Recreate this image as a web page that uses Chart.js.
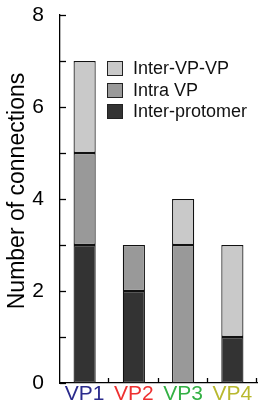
<!DOCTYPE html>
<html>
<head>
<meta charset="utf-8">
<script src="https://cdn.jsdelivr.net/npm/chart.js@4"></script>
<style>
html,body{margin:0;padding:0;background:#fff;}
#wrap{position:relative;width:258px;height:405px;}
</style>
</head>
<body>
<div id="wrap"><canvas id="c" width="258" height="405"></canvas></div>
<script>
const categories = ['VP1', 'VP2', 'VP3', 'VP4'];
const categoryColors = ['#2b2b8c', '#ee3030', '#33b044', '#b8b82e'];
const interProtomer = [3, 2, 0, 1];
const intraVP = [2, 1, 3, 0];
const interVPVP = [2, 0, 1, 2];
const yTickLabels = ['0', '2', '4', '6', '8'];
const seriesNames = ['Inter-VP-VP', 'Intra VP', 'Inter-protomer'];

const FONT = '"Liberation Sans", Arial, sans-serif';
const COL_DARK = '#333333', COL_MID = '#999999', COL_LIGHT = '#c9c9c9';

const nz = a => a.map(v => v === 0 ? null : v);

const overlay = {
  id: 'overlay',
  afterDraw(chart) {
    const ctx = chart.ctx;
    const x = chart.scales.x, y = chart.scales.y;
    const area = chart.chartArea;
    ctx.save();
    ctx.strokeStyle = '#000';
    ctx.lineWidth = 1.3;
    // y inward ticks
    for (let v = 0; v <= 8; v++) {
      const py = Math.round(y.getPixelForValue(v)) + 0.5;
      ctx.beginPath(); ctx.moveTo(area.left, py); ctx.lineTo(area.left + 6, py); ctx.stroke();
    }
    // x inward ticks at category boundaries
    const step = x.getPixelForValue(1) - x.getPixelForValue(0);
    for (let i = 0; i < categories.length; i++) {
      const px = Math.round(x.getPixelForValue(i) + step / 2) - 0.5;
      ctx.beginPath(); ctx.moveTo(px, area.bottom); ctx.lineTo(px, area.bottom - 5); ctx.stroke();
    }
    // y title
    ctx.fillStyle = '#000';
    ctx.font = '23px ' + FONT;
    ctx.textAlign = 'center';
    ctx.textBaseline = 'middle';
    ctx.translate(18, 191);
    ctx.rotate(-Math.PI / 2);
    ctx.fillText('Number of connections', 0, 0);
    ctx.restore();
    // legend
    ctx.save();
    const fills = [COL_LIGHT, COL_MID, COL_DARK];
    const tops = [61, 83, 104];
    ctx.font = '18px ' + FONT;
    ctx.textBaseline = 'middle';
    ctx.textAlign = 'left';
    for (let i = 0; i < 3; i++) {
      ctx.fillStyle = fills[i];
      ctx.fillRect(107, tops[i], 16, 15);
      ctx.strokeStyle = '#222';
      ctx.lineWidth = 1;
      ctx.strokeRect(107.5, tops[i] + 0.5, 15, 14);
      ctx.fillStyle = '#111';
      ctx.fillText(seriesNames[i], 133, tops[i] + 8);
    }
    ctx.restore();
  }
};

new Chart(document.getElementById('c'), {
  type: 'bar',
  data: {
    labels: categories,
    datasets: [
      { label: seriesNames[2], data: nz(interProtomer), backgroundColor: COL_DARK },
      { label: seriesNames[1], data: nz(intraVP), backgroundColor: COL_MID },
      { label: seriesNames[0], data: nz(interVPVP), backgroundColor: COL_LIGHT }
    ].map(d => Object.assign(d, { borderColor: '#111', borderWidth: 1.2, borderSkipped: false, categoryPercentage: 1, barPercentage: 0.45 }))
  },
  options: {
    responsive: false,
    animation: false,
    devicePixelRatio: 1,
    layout: { padding: { top: 15, right: 1, left: 0, bottom: 0 } },
    plugins: { legend: { display: false }, tooltip: { enabled: false } },
    scales: {
      x: {
        stacked: true,
        grid: { display: false },
        border: { display: true, color: '#000', width: 1.3 },
        ticks: {
          padding: -7,
          font: { size: 21, family: FONT, lineHeight: 1 },
          color: ctx => categoryColors[ctx.index]
        },
        afterFit(s) { s.height = 22; }
      },
      y: {
        stacked: true,
        min: 0, max: 8,
        grid: { display: false },
        border: { display: true, color: '#000', width: 1.3 },
        ticks: {
          stepSize: 1,
          padding: 8,
          color: '#000',
          font: { size: 21, family: FONT, lineHeight: 0.5 },
          callback: v => (v % 2 === 0 ? yTickLabels[v / 2] : '')
        },
        afterFit(s) { s.width = 60; }
      }
    }
  },
  plugins: [overlay]
});
</script>
</body>
</html>
